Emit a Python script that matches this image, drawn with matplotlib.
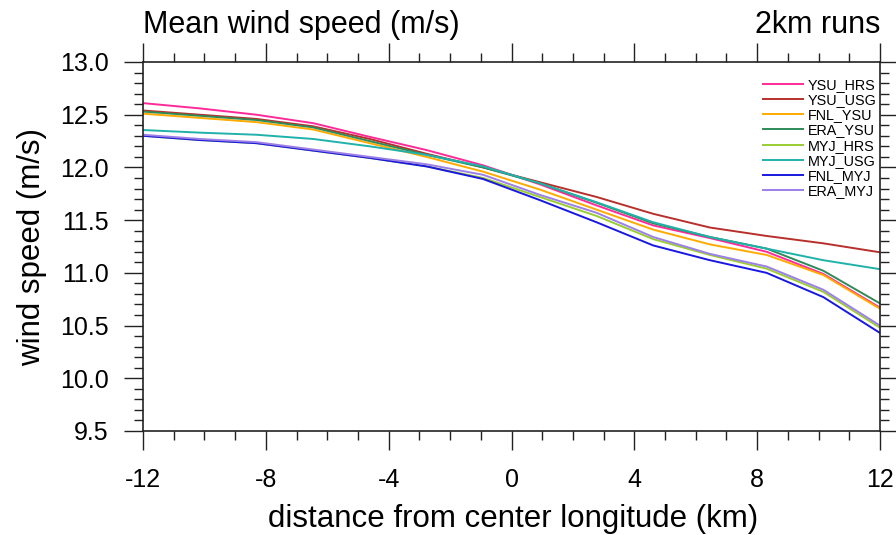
import matplotlib
matplotlib.use("Agg")
import matplotlib.pyplot as plt
import numpy as np
from matplotlib.ticker import MultipleLocator

plt.rcParams['font.family'] = ['Liberation Sans', 'DejaVu Sans']
plt.rcParams['axes.unicode_minus'] = False

# distance from center longitude (km), 14 grid points
dist = np.linspace(-12, 12, 14)

ysu_hrs = [12.61, 12.56, 12.50, 12.42, 12.29, 12.165, 12.02, 11.84, 11.64, 11.45, 11.33, 11.20, 10.99, 10.67]
ysu_usg = [12.54, 12.50, 12.46, 12.39, 12.27, 12.13, 12.00, 11.86, 11.72, 11.56, 11.43, 11.35, 11.28, 11.195]
fnl_ysu = [12.51, 12.47, 12.43, 12.36, 12.23, 12.10, 11.96, 11.79, 11.60, 11.41, 11.27, 11.17, 10.98, 10.66]
era_ysu = [12.53, 12.49, 12.45, 12.38, 12.25, 12.12, 12.00, 11.85, 11.665, 11.47, 11.34, 11.23, 11.02, 10.71]
myj_hrs = [12.30, 12.26, 12.23, 12.16, 12.09, 12.01, 11.90, 11.72, 11.54, 11.32, 11.17, 11.04, 10.82, 10.48]
myj_usg = [12.355, 12.33, 12.31, 12.27, 12.20, 12.12, 12.01, 11.85, 11.67, 11.48, 11.34, 11.23, 11.12, 11.035]
fnl_myj = [12.30, 12.26, 12.23, 12.16, 12.09, 12.01, 11.89, 11.69, 11.48, 11.26, 11.12, 11.00, 10.77, 10.43]
era_myj = [12.31, 12.27, 12.24, 12.17, 12.10, 12.03, 11.93, 11.74, 11.57, 11.34, 11.18, 11.06, 10.84, 10.50]

runs = {
    'YSU_HRS': (ysu_hrs, '#ff2a9a'),
    'YSU_USG': (ysu_usg, '#b8302c'),
    'FNL_YSU': (fnl_ysu, '#ffaa00'),
    'ERA_YSU': (era_ysu, '#2e8b57'),
    'MYJ_HRS': (myj_hrs, '#9acd32'),
    'MYJ_USG': (myj_usg, '#20b2aa'),
    'FNL_MYJ': (fnl_myj, '#1818e0'),
    'ERA_MYJ': (era_myj, '#9c80e6'),
}

fig = plt.figure(figsize=(8.96, 5.35), dpi=100)
ax = fig.add_axes([143/896, 1-431/535, (880-143)/896, (431-62)/535])

for name, (vals, col) in runs.items():
    ax.plot(dist, vals, color=col, lw=1.4, label=name)

ax.set_xlim(-12, 12)
ax.set_ylim(9.5, 13.0)
ax.xaxis.set_major_locator(MultipleLocator(4))
ax.xaxis.set_minor_locator(MultipleLocator(1))
ax.yaxis.set_major_locator(MultipleLocator(0.5))
ax.yaxis.set_minor_locator(MultipleLocator(0.1))
ax.yaxis.set_major_formatter(matplotlib.ticker.FormatStrFormatter('%.1f'))

for s in ax.spines.values():
    s.set_linewidth(1.2)
    s.set_color('#222222')
ax.tick_params(which='both', direction='out', top=True, right=True, color='#222222', width=1.0)
ax.tick_params(which='major', length=13.5, labelsize=18, pad=11)
ax.tick_params(which='minor', length=6.5)
ax.tick_params(axis='x', which='major', pad=13)

fig.text(513/896, 1-527/535, 'distance from center longitude (km)', fontsize=22.5,
         ha='center', va='baseline')
fig.text(32/896, 1-247/535, 'wind speed (m/s)', fontsize=22.5, rotation=90,
         ha='center', va='center')

fig.text(143/896, 1-33/535, 'Mean wind speed (m/s)', fontsize=22, ha='left', va='baseline')
fig.text(880/896, 1-33/535, '2km runs', fontsize=22, ha='right', va='baseline')

fig.legend(loc='upper left', bbox_to_anchor=(763/896, 1-78/535), frameon=False,
           fontsize=10.4, handlelength=2.8, handletextpad=0.3, labelspacing=0.08,
           borderpad=0, borderaxespad=0)

fig.savefig('out.png', dpi=100)
